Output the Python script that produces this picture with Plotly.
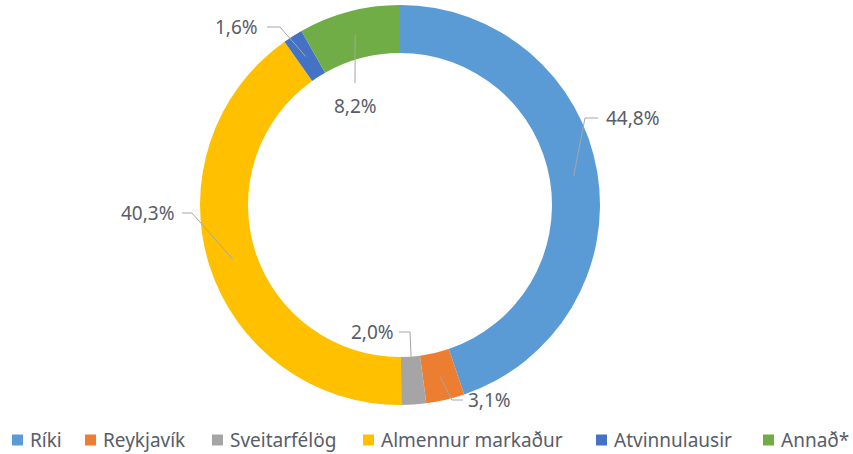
import math
import plotly.graph_objects as go

W, H = 853, 454

# ---- data ----
categories = ["Ríki", "Reykjavík", "Sveitarfélög", "Almennur markaður", "Atvinnulausir", "Annað*"]
values = [44.8, 3.1, 2.0, 40.3, 1.6, 8.2]
value_labels = ["44,8%", "3,1%", "2,0%", "40,3%", "1,6%", "8,2%"]

# ---- styles ----
colors = ["#5B9BD5", "#ED7D31", "#A5A5A5", "#FFC000", "#4472C4", "#70AD47"]
CX, CY, R_OUT, HOLE = 400, 205, 200, 0.76
R_MID = R_OUT * (1 + HOLE) / 2
# label placement (pixel): text x, text y, anchor, elbow point, line end point
label_style = [
    dict(tx=604, ty=118, anchor="left",   elbow=(585, 118), end=(598, 118)),
    dict(tx=466, ty=400, anchor="left",   elbow=(452, 400), end=(463, 400)),
    dict(tx=396, ty=332, anchor="right",  elbow=(410, 332), end=(399, 332)),
    dict(tx=177, ty=213, anchor="right",  elbow=(192, 213), end=(182, 213)),
    dict(tx=260, ty=27,  anchor="right",  elbow=(280, 27),  end=(267, 27)),
    dict(tx=355, ty=106, anchor="center", elbow=(355, 83),  end=(355, 83)),
]
legend_x = [12, 85, 212, 363, 596, 763]   # marker left edges (pixel)
LEGEND_Y = 440
MARK = 11
TEXT_COLOR = "#575d69"
LINE_COLOR = "#A6A6A6"
FONT = "Noto Sans"


def px(x):
    return x / W


def py(y):
    return 1 - y / H


fig = go.Figure()
fig.add_trace(go.Pie(
    labels=categories,
    values=values,
    hole=HOLE,
    sort=False,
    direction="clockwise",
    rotation=0,
    marker=dict(colors=colors, line=dict(width=0)),
    textinfo="none",
    showlegend=False,
    domain=dict(x=[px(CX - R_OUT), px(CX + R_OUT)], y=[py(CY + R_OUT), py(CY - R_OUT)]),
))

total = sum(values)
cum = 0.0
shapes = []
annotations = []
for v, lab, st in zip(values, value_labels, label_style):
    mid = (cum + v / 2) / total * 2 * math.pi
    cum += v
    ax = CX + R_MID * math.sin(mid)
    ay = CY - R_MID * math.cos(mid)
    pts = [(ax, ay), st["elbow"], st["end"]]
    path = "M " + " L ".join(f"{px(x)},{py(y)}" for x, y in pts)
    shapes.append(dict(type="path", xref="paper", yref="paper", path=path,
                       line=dict(color=LINE_COLOR, width=1)))
    annotations.append(dict(
        x=px(st["tx"]), y=py(st["ty"]), xref="paper", yref="paper",
        text=lab, showarrow=False, xanchor=st["anchor"], yanchor="middle",
        font=dict(family=FONT, size=19, color=TEXT_COLOR),
    ))

# manual legend
for name, col, lx in zip(categories, colors, legend_x):
    shapes.append(dict(type="rect", xref="paper", yref="paper",
                       x0=px(lx), x1=px(lx + MARK),
                       y0=py(LEGEND_Y + MARK / 2), y1=py(LEGEND_Y - MARK / 2),
                       fillcolor=col, line=dict(width=0)))
    annotations.append(dict(
        x=px(lx + MARK + 5), y=py(LEGEND_Y), xref="paper", yref="paper",
        text=name, showarrow=False, xanchor="left", yanchor="middle",
        font=dict(family=FONT, size=19, color=TEXT_COLOR),
    ))

fig.update_layout(
    width=W, height=H,
    margin=dict(l=0, r=0, t=0, b=0),
    paper_bgcolor="white", plot_bgcolor="white",
    shapes=shapes, annotations=annotations,
    showlegend=False,
)

fig.write_html("out.html", config={"displayModeBar": False})
with open("out.html", encoding="utf-8") as f:
    html = f.read()
html = html.replace("<body>", '<body style="margin:0;padding:0;">', 1)
with open("out.html", "w", encoding="utf-8") as f:
    f.write(html)
